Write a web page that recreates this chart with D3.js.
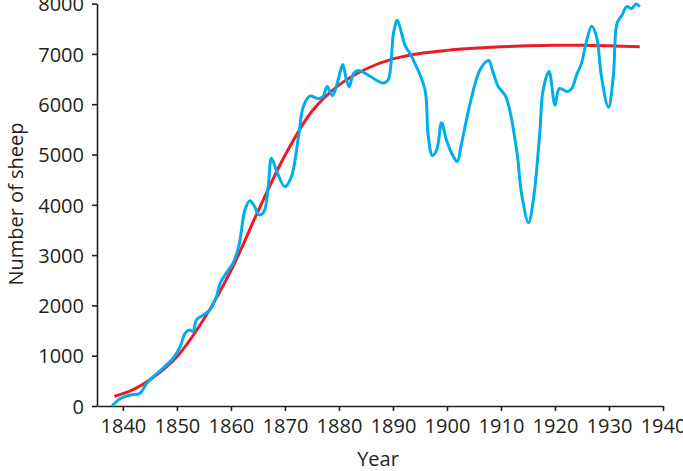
<!DOCTYPE html>
<html>
<head>
<meta charset="utf-8">
<script src="https://cdn.jsdelivr.net/npm/d3@7"></script>
<style>
  body { margin: 0; background: #fff; }
  .axis text { font-family: "Open Sans", sans-serif; font-size: 20px; fill: #231f20; }
  .axis path, .axis line { stroke: #231f20; stroke-width: 1.6; }
</style>
</head>
<body>
<div id="chart-area"></div>
<script>
/* Data */
var xTicks = [1840, 1850, 1860, 1870, 1880, 1890, 1900, 1910, 1920, 1930, 1940];
var yTicks = [0, 1000, 2000, 3000, 4000, 5000, 6000, 7000, 8000];

// observed sheep numbers (blue)
var obsYears = [1838.0, 1839.4, 1841.3, 1843.1, 1844.4, 1845.3, 1847.3, 1849.3, 1850.6, 1851.5,
  1852.4, 1853.0, 1853.6, 1854.9, 1856.1, 1857.3, 1858.0, 1859.5, 1860.4, 1861.5,
  1862.6, 1863.5, 1864.4, 1865.2, 1866.1, 1866.9, 1867.5, 1868.5, 1870.0, 1871.2,
  1872.5, 1873.4, 1874.6, 1876.2, 1877.1, 1877.8, 1878.8, 1879.9, 1880.7, 1881.4,
  1881.9, 1882.7, 1883.6, 1885.7, 1888.2, 1889.1, 1890.1, 1890.8, 1891.6, 1892.2,
  1893.5, 1895.9, 1896.5, 1897.3, 1898.1, 1899.0, 1899.9, 1900.9, 1901.9, 1902.7,
  1904.3, 1906.1, 1907.7, 1908.6, 1909.5, 1910.9, 1912.9, 1913.8, 1915.1, 1916.0,
  1917.2, 1917.8, 1918.9, 1920.0, 1920.8, 1922.3, 1923.1, 1924.0, 1924.9, 1925.9,
  1926.8, 1927.7, 1928.6, 1929.9, 1930.8, 1931.5, 1932.4, 1933.3, 1934.2, 1935.0, 1935.7];
var obsSheep = [0, 140, 220, 250, 450, 550, 740, 950, 1180, 1445,
  1510, 1480, 1710, 1810, 1910, 2170, 2440, 2700, 2840, 3200,
  3900, 4080, 3960, 3800, 3860, 4360, 4925, 4660, 4360, 4560,
  5350, 5950, 6160, 6110, 6160, 6350, 6170, 6500, 6790, 6480,
  6350, 6610, 6670, 6560, 6420, 6480, 7410, 7670, 7410, 7180,
  6940, 6300, 5400, 4980, 5090, 5630, 5290, 5020, 4860, 5220,
  6020, 6680, 6870, 6610, 6350, 6150, 5090, 4230, 3645, 4100,
  5450, 6280, 6650, 5980, 6310, 6250, 6310, 6580, 6810, 7280,
  7550, 7340, 6550, 5940, 6550, 7610, 7770, 7940, 7900, 7990, 7940];

// fitted curve (red)
var fitYears = [1838.4, 1842, 1845, 1850, 1855, 1860, 1865, 1870, 1875, 1880,
  1885, 1890, 1895, 1900, 1905, 1910, 1915, 1920, 1925, 1930, 1935.7];
var fitSheep = [190, 330, 520, 980, 1730, 2690, 3870, 4980, 5860, 6380,
  6700, 6900, 7010, 7070, 7110, 7140, 7160, 7170, 7170, 7160, 7140];

var obs = obsYears.map(function(d, i) { return { year: d, value: obsSheep[i] }; });
var fit = fitYears.map(function(d, i) { return { year: d, value: fitSheep[i] }; });

/* Canvas */
var W = 683, H = 471;
var svg = d3.select("#chart-area").append("svg")
  .attr("width", W)
  .attr("height", H);

// scales
var x = d3.scaleLinear().domain([1835.2, 1940]).range([97, 663]);
var y = d3.scaleLinear().domain([0, 8000]).range([406, 3.6]);

/* Axes */
svg.append("g")
  .attr("class", "x axis")
  .attr("transform", "translate(0,406)")
  .call(d3.axisBottom(x).tickValues(xTicks).tickFormat(d3.format("d")).tickSizeInner(5).tickSizeOuter(0).tickPadding(8));

svg.append("g")
  .attr("class", "y axis")
  .attr("transform", "translate(97,0)")
  .call(d3.axisLeft(y).tickValues(yTicks).tickFormat(d3.format("d")).tickSizeInner(5).tickSizeOuter(0).tickPadding(8))
  .selectAll("text").attr("dy", "0.36em");

// axis titles
svg.append("text")
  .attr("x", 378).attr("y", 466)
  .attr("text-anchor", "middle")
  .style("font-family", "'Open Sans', sans-serif").style("font-size", "20px").style("fill", "#231f20")
  .text("Year");

svg.append("text")
  .attr("transform", "translate(23,204) rotate(-90)")
  .attr("text-anchor", "middle")
  .style("font-family", "'Open Sans', sans-serif").style("font-size", "20px").style("fill", "#231f20")
  .text("Number of sheep");

/* Lines */
var line = d3.line()
  .x(function(d) { return x(d.year); })
  .y(function(d) { return y(d.value); })
  .curve(d3.curveCatmullRom.alpha(0.5));

svg.append("path").datum(fit)
  .attr("d", line)
  .attr("fill", "none")
  .attr("stroke", "#ed1c24")
  .attr("stroke-width", 3);

svg.append("path").datum(obs)
  .attr("d", line)
  .attr("fill", "none")
  .attr("stroke", "#00aeef")
  .attr("stroke-width", 3)
  .attr("stroke-linejoin", "round");
</script>
</body>
</html>
